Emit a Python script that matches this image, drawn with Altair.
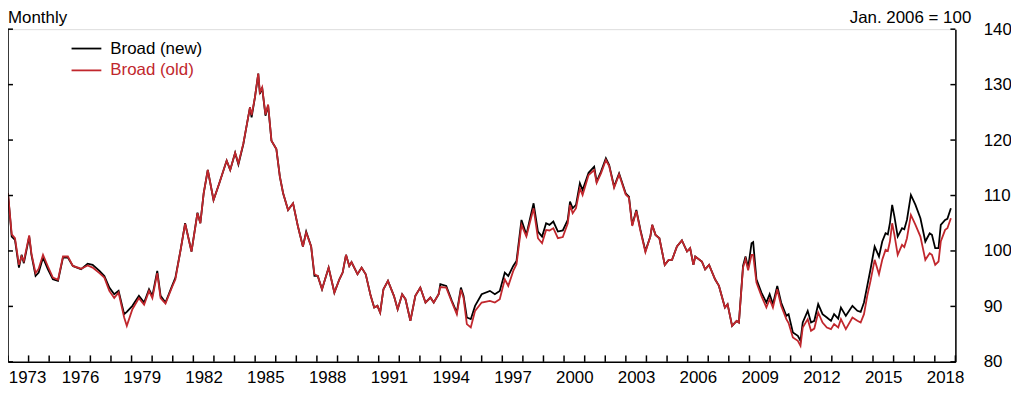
import altair as alt
import pandas as pd

T = [1973.00, 1973.18, 1973.34, 1973.53, 1973.66, 1973.77, 1973.90, 1974.03, 1974.14, 1974.34,
     1974.49, 1974.70, 1974.94, 1975.18, 1975.43, 1975.67, 1975.91, 1976.15, 1976.55, 1976.87,
     1977.11, 1977.44, 1977.68, 1977.92, 1978.16, 1978.37, 1978.64, 1978.77, 1979.04, 1979.36,
     1979.61, 1979.85, 1980.01, 1980.25, 1980.41, 1980.65, 1980.97, 1981.13, 1981.38, 1981.60,
     1981.91, 1982.20, 1982.34, 1982.50, 1982.70, 1982.98, 1983.26, 1983.62, 1983.79, 1984.03,
     1984.19, 1984.43, 1984.59, 1984.75, 1984.83, 1984.99, 1985.15, 1985.23, 1985.34, 1985.50,
     1985.63, 1985.79, 1986.03, 1986.20, 1986.36, 1986.60, 1986.84, 1987.08, 1987.32, 1987.48,
     1987.72, 1987.88, 1988.04, 1988.25, 1988.57, 1988.85, 1989.09, 1989.25, 1989.41, 1989.57,
     1989.68, 1989.97, 1990.17, 1990.37, 1990.61, 1990.78, 1990.94, 1991.07, 1991.23, 1991.45,
     1991.74, 1991.92, 1992.14, 1992.30, 1992.54, 1992.78, 1993.02, 1993.27, 1993.51, 1993.67,
     1993.91, 1993.99, 1994.28, 1994.55, 1994.79, 1994.99, 1995.12, 1995.28, 1995.47, 1995.68,
     1996.00, 1996.40, 1996.64, 1996.88, 1997.12, 1997.29, 1997.53, 1997.69, 1997.93, 1998.17,
     1998.33, 1998.52, 1998.73, 1998.93, 1999.13, 1999.29, 1999.48, 1999.70, 1999.94, 2000.18,
     2000.29, 2000.42, 2000.58, 2000.77, 2000.90, 2001.19, 2001.46, 2001.58, 2001.79, 2002.03,
     2002.19, 2002.43, 2002.67, 2002.99, 2003.15, 2003.31, 2003.51, 2003.71, 2003.95, 2004.19,
     2004.28, 2004.44, 2004.63, 2004.89, 2005.08, 2005.24, 2005.48, 2005.72, 2005.97, 2006.12,
     2006.28, 2006.37, 2006.69, 2006.85, 2007.04, 2007.33, 2007.52, 2007.81, 2007.94, 2008.16,
     2008.38, 2008.49, 2008.69, 2008.81, 2008.94, 2009.10, 2009.18, 2009.34, 2009.58, 2009.82,
     2009.98, 2010.14, 2010.35, 2010.54, 2010.79, 2010.90, 2011.11, 2011.35, 2011.48, 2011.59,
     2011.83, 2011.99, 2012.15, 2012.34, 2012.55, 2012.76, 2012.96, 2013.11, 2013.31, 2013.44,
     2013.68, 2014.00, 2014.24, 2014.40, 2014.56, 2014.72, 2014.88, 2015.08, 2015.29, 2015.45,
     2015.61, 2015.72, 2015.82, 2015.93, 2016.04, 2016.20, 2016.41, 2016.52, 2016.65, 2016.84,
     2017.06, 2017.30, 2017.54, 2017.75, 2017.86, 2018.02, 2018.18, 2018.29, 2018.50, 2018.61,
     2018.78]

BROAD_NEW = [110.4, 102.6, 102.0, 97.0, 99.3, 97.8, 100.2, 102.6, 99.3, 95.5,
             96.1, 98.8, 96.7, 94.9, 94.6, 98.8, 98.8, 97.3, 96.7, 97.7,
             97.5, 96.4, 95.5, 93.4, 92.2, 92.8, 88.6, 89.0, 90.1, 91.9,
             90.7, 93.1, 91.9, 96.4, 91.9, 90.7, 93.7, 95.2, 100.2, 105.0,
             99.9, 106.9, 105.0, 110.4, 114.6, 109.2, 112.2, 116.3, 114.6, 117.7,
             115.6, 119.3, 122.6, 125.9, 124.1, 127.7, 132.0, 128.3, 129.5, 124.4,
             126.2, 119.9, 118.4, 113.4, 110.4, 107.4, 108.6, 104.4, 100.8, 103.5,
             100.8, 95.5, 95.5, 93.1, 97.0, 92.5, 94.9, 96.1, 99.3, 97.3,
             98.0, 95.8, 97.0, 95.8, 91.9, 89.8, 90.1, 88.9, 93.1, 94.6,
             91.9, 89.5, 92.2, 91.3, 87.4, 91.9, 93.4, 90.7, 91.6, 90.7,
             92.2, 94.0, 93.7, 91.0, 88.9, 93.4, 91.9, 88.0, 87.7, 90.1,
             92.2, 92.8, 92.2, 92.8, 96.1, 95.5, 97.3, 98.2, 105.6, 102.9,
             105.6, 108.6, 103.5, 102.6, 105.0, 104.7, 105.3, 103.5, 103.7, 105.6,
             108.9, 107.7, 108.3, 112.2, 111.0, 114.1, 115.2, 112.5, 114.3, 116.7,
             115.5, 111.6, 114.0, 110.4, 109.8, 104.7, 107.4, 103.8, 100.0, 102.6,
             104.7, 102.9, 102.3, 97.5, 98.4, 98.4, 100.8, 101.9, 99.9, 100.5,
             97.5, 99.0, 98.1, 96.7, 97.5, 94.9, 93.7, 89.8, 90.4, 86.5,
             87.4, 87.1, 97.3, 99.0, 97.0, 101.4, 101.6, 94.9, 92.5, 90.7,
             92.2, 90.4, 93.7, 90.7, 88.3, 88.6, 85.3, 84.7, 83.8, 87.1,
             89.2, 87.1, 87.4, 90.4, 88.6, 88.0, 87.4, 88.6, 87.8, 89.8,
             88.3, 90.1, 89.2, 89.0, 90.7, 93.7, 96.7, 100.8, 99.0, 101.7,
             103.2, 103.0, 105.0, 108.3, 106.2, 102.6, 104.1, 103.9, 105.6, 110.1,
             108.3, 105.9, 101.7, 103.2, 102.9, 100.5, 100.5, 104.7, 105.6, 105.8,
             107.7]

BROAD_OLD = [110.4, 103.0, 102.3, 97.5, 99.0, 98.2, 100.5, 102.8, 99.5, 96.0,
             96.8, 99.3, 97.2, 95.2, 94.8, 99.0, 99.0, 97.3, 96.8, 97.4,
             97.0, 96.0, 95.2, 92.8, 91.5, 92.5, 88.0, 86.5, 89.5, 91.5,
             90.3, 92.8, 91.5, 96.0, 91.5, 90.5, 93.5, 94.9, 100.2, 104.9,
             99.9, 106.8, 105.0, 110.4, 114.6, 109.2, 112.2, 116.3, 114.6, 117.7,
             115.8, 119.4, 122.6, 125.9, 124.5, 127.7, 132.0, 128.6, 129.5, 124.6,
             126.4, 119.9, 118.4, 113.4, 110.4, 107.4, 108.6, 104.4, 100.8, 103.3,
             100.8, 95.8, 95.5, 93.1, 97.0, 92.5, 94.9, 96.1, 99.3, 97.3,
             98.0, 95.8, 97.0, 95.8, 91.9, 89.8, 90.1, 88.9, 93.1, 94.6,
             91.9, 89.5, 92.2, 91.3, 87.4, 91.9, 93.4, 90.7, 91.6, 90.7,
             92.2, 93.5, 93.4, 90.8, 88.6, 93.0, 91.5, 86.8, 86.2, 89.2,
             90.7, 91.0, 90.7, 91.3, 94.9, 93.7, 96.4, 97.6, 104.7, 102.6,
             105.0, 107.7, 102.3, 101.4, 103.8, 103.7, 104.1, 102.3, 102.5, 105.0,
             108.3, 106.8, 107.7, 111.3, 110.1, 113.7, 114.6, 112.3, 114.0, 116.4,
             115.3, 111.4, 113.8, 110.2, 109.6, 104.5, 107.2, 103.6, 99.8, 102.6,
             104.7, 102.9, 102.3, 97.5, 98.4, 98.4, 100.8, 101.9, 99.9, 100.5,
             97.5, 99.0, 98.1, 96.7, 97.5, 94.9, 93.7, 89.8, 90.4, 86.5,
             87.4, 87.1, 97.0, 98.5, 96.5, 99.3, 99.3, 94.3, 91.9, 89.8,
             91.3, 89.8, 93.1, 90.1, 87.7, 87.0, 84.4, 83.8, 82.9, 86.2,
             87.7, 85.6, 86.0, 88.9, 87.1, 86.2, 85.9, 86.8, 86.2, 87.7,
             85.9, 88.0, 87.4, 87.1, 88.6, 91.9, 94.6, 98.4, 95.8, 98.4,
             100.2, 100.0, 101.7, 105.0, 102.9, 99.3, 101.1, 100.7, 102.3, 106.5,
             104.7, 102.6, 98.4, 99.6, 99.3, 97.5, 98.1, 101.7, 103.8, 104.1,
             105.9]

SERIES = ["Broad (new)", "Broad (old)"]
COLORS = ["#000000", "#C1272D"]
Y_TICKS = [80, 90, 100, 110, 120, 130, 140]
LABEL_YEARS = list(range(1973, 2019, 3))
TICK_YEARS = list(range(1973, 2020))

W, H = 954, 335
FONT = "Liberation Sans"
FS = 17


def to_date(t):
    y = int(t)
    return pd.Timestamp(year=y, month=1, day=1) + pd.Timedelta(days=round((t - y) * 365.25))


dates = [to_date(t) for t in T]
df_new = pd.DataFrame({"date": dates, "value": BROAD_NEW})
df_old = pd.DataFrame({"date": dates, "value": BROAD_OLD})
ticks_df = pd.DataFrame({"date": [pd.Timestamp(year=y, month=1, day=1) for y in TICK_YEARS]})
yticks_df = pd.DataFrame({"v": Y_TICKS})

xscale = alt.Scale(domain=[alt.DateTime(year=1973, month=1, date=1),
                           alt.DateTime(year=2019, month=1, date=1)])
yscale = alt.Scale(domain=[80, 140], nice=False, zero=False)

xaxis = alt.Axis(values=[alt.DateTime(year=y, month=7, date=1) for y in LABEL_YEARS],
                 format="%Y", title=None, grid=False, ticks=False, tickSize=0,
                 labelPadding=8, domainColor="black", domainWidth=1.5,
                 labelFont=FONT, labelFontSize=FS, labelColor="black",
                 labelFlush=10.36, labelFlushOffset=10, labelOverlap=False)
yaxis = alt.Axis(orient="right", values=Y_TICKS, title=None, grid=False, ticks=False,
                 tickSize=0, labelPadding=28, domainColor="black", domainWidth=1.5,
                 labelFont=FONT, labelFontSize=FS, labelColor="black", labelAlign="left")

line_new = alt.Chart(df_new).mark_line(color=COLORS[0], strokeWidth=1.8).encode(
    x=alt.X("date:T", scale=xscale, axis=xaxis),
    y=alt.Y("value:Q", scale=yscale, axis=yaxis),
)
line_old = alt.Chart(df_old).mark_line(color=COLORS[1], strokeWidth=1.8).encode(
    x=alt.X("date:T", scale=xscale),
    y=alt.Y("value:Q", scale=yscale),
)

xticks = alt.Chart(ticks_df).mark_rule(color="black", strokeWidth=1.5).encode(
    x=alt.X("date:T", scale=xscale), y=alt.value(H - 6.5), y2=alt.value(H))
ytick_l = alt.Chart(yticks_df).mark_rule(color="black", strokeWidth=1.5).encode(
    y=alt.Y("v:Q", scale=yscale), x=alt.value(0), x2=alt.value(5))
ytick_r = alt.Chart(yticks_df).mark_rule(color="black", strokeWidth=1.5).encode(
    y=alt.Y("v:Q", scale=yscale), x=alt.value(W - 5), x2=alt.value(W))
left_axis = alt.Chart(pd.DataFrame({"a": [0]})).mark_rule(color="black", strokeWidth=1.5).encode(
    x=alt.value(0), y=alt.value(0), y2=alt.value(H))

leg_df = pd.DataFrame({"s": SERIES, "c": COLORS, "yy": [19.5, 41.5]})
leg_lines = alt.Chart(leg_df).mark_rule(strokeWidth=1.8).encode(
    x=alt.value(64), x2=alt.value(94), y=alt.Y("yy:Q", scale=None),
    color=alt.Color("c:N", scale=None))
leg_text = alt.Chart(leg_df).mark_text(align="left", baseline="middle", font=FONT, fontSize=FS).encode(
    x=alt.value(103), y=alt.Y("yy:Q", scale=None), text="s:N",
    color=alt.Color("c:N", scale=None))

title_l = alt.Chart(pd.DataFrame({"t": ["Monthly"]})).mark_text(
    align="left", baseline="alphabetic", font=FONT, fontSize=FS, color="black").encode(
    x=alt.value(0), y=alt.value(-6.5), text="t:N")
title_r = alt.Chart(pd.DataFrame({"t": ["Jan. 2006 = 100"]})).mark_text(
    align="right", baseline="alphabetic", font=FONT, fontSize=FS, color="black").encode(
    x=alt.value(W + 16), y=alt.value(-6.5), text="t:N")

chart = alt.layer(
    line_new, line_old, xticks, ytick_l, ytick_r, left_axis,
    leg_lines, leg_text, title_l, title_r
).properties(
    width=W, height=H,
    autosize=alt.AutoSizeParams(type="none"),
    padding={"left": 0, "top": 20, "right": 56, "bottom": 24},
).configure_view(stroke=None).configure(background="white")

chart.save("out.html", embed_options={"renderer": "svg", "actions": False})
